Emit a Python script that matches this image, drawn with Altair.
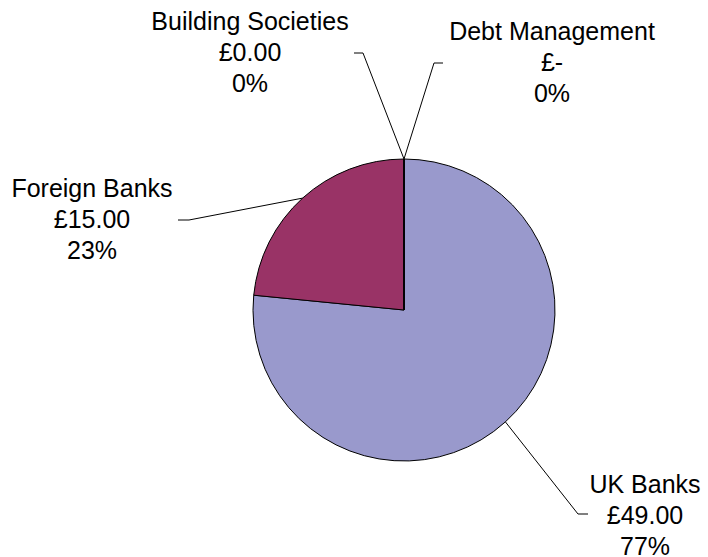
import math
import altair as alt
import pandas as pd

# ---- data ----
categories = ["UK Banks", "Foreign Banks", "Building Societies", "Debt Management"]
values = [49.0, 15.0, 0.0, 0.0]
value_labels = ["£49.00", "£15.00", "£0.00", "£-"]
colors = ["#9999CC", "#993366", "#FFFFCC", "#CCFFFF"]

total = sum(values)
pct_labels = [f"{round(v / total * 100)}%" for v in values]

# ---- layout ----
W, H = 708, 557
CX, CY, R = 404, 310, 151
# elbow and end of leader lines, label block centre (x, first-line y)
elbows = [(578, 514), (189, 220), (363, 53), (434, 63)]
ends = [(588, 514), (178, 220), (354, 53), (443, 63)]
label_pos = [(645, 485), (92, 189), (250, 22), (552, 32)]
LINE_H = 31

pie_df = pd.DataFrame({"category": categories, "value": values, "order": list(range(len(categories)))})

# leader lines: start at slice mid-angle on the pie edge
rows = []
cum = 0.0
for i, (c, v) in enumerate(zip(categories, values)):
    mid = (cum + v / 2) / total * 2 * math.pi
    cum += v
    sx = CX + R * math.sin(mid)
    sy = CY - R * math.cos(mid)
    pts = [(sx, sy), elbows[i], ends[i]]
    for k, (px, py) in enumerate(pts):
        rows.append({"category": c, "k": k, "x": px, "y": py})
line_df = pd.DataFrame(rows)

trows = []
for i, c in enumerate(categories):
    lx, ly = label_pos[i]
    for j, t in enumerate([c, value_labels[i], pct_labels[i]]):
        trows.append({"category": c, "line": j, "text": t, "x": lx, "y": ly + j * LINE_H})
text_df = pd.DataFrame(trows)

xs = alt.Scale(domain=[0, W], range=[0, W])
ys = alt.Scale(domain=[0, H], range=[0, H])

pie = alt.Chart(pie_df).mark_arc(radius=R, stroke="black", strokeWidth=1).encode(
    theta=alt.Theta("value:Q", stack=True),
    order=alt.Order("order:Q"),
    color=alt.Color("category:N", scale=alt.Scale(domain=categories, range=colors), legend=None),
    x=alt.value(CX),
    y=alt.value(CY),
)

leaders = alt.Chart(line_df).mark_line(color="black", strokeWidth=1).encode(
    x=alt.X("x:Q", scale=xs, axis=None),
    y=alt.Y("y:Q", scale=ys, axis=None),
    detail="category:N",
    order="k:Q",
)

labels = alt.Chart(text_df).mark_text(
    font="Liberation Sans", fontSize=25, color="black", align="center", baseline="middle"
).encode(
    x=alt.X("x:Q", scale=xs, axis=None),
    y=alt.Y("y:Q", scale=ys, axis=None),
    text="text:N",
)

chart = alt.layer(pie, leaders, labels).properties(
    width=W, height=H, padding=0, autosize=alt.AutoSizeParams(type="none"), background="white"
).configure_view(stroke=None)

chart.save("out.html", embed_options={"renderer": "svg", "actions": False})
